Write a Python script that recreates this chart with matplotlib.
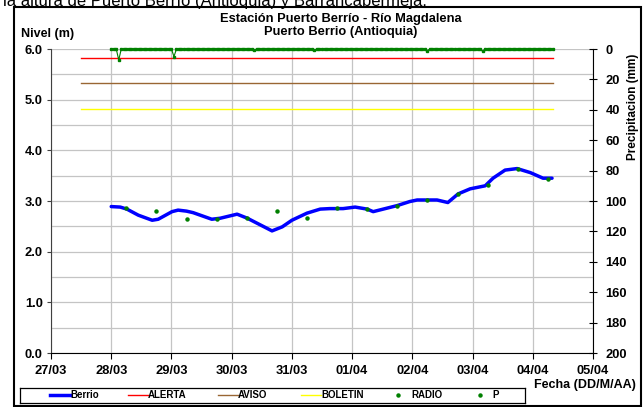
import numpy as np
import matplotlib
matplotlib.use('Agg')
import matplotlib.pyplot as plt
from matplotlib.patches import Rectangle
from matplotlib.ticker import MultipleLocator

# datos (dias desde 27/03 00:00)
fechas = ['27/03', '28/03', '29/03', '30/03', '31/03', '01/04', '02/04', '03/04', '04/04', '05/04']

berrio_dias = [1.00, 1.15, 1.26, 1.45, 1.68, 1.78, 2.01, 2.11, 2.25, 2.36, 2.67, 2.81,
               3.09, 3.26, 3.67, 3.84, 4.00, 4.25, 4.47, 4.63, 4.85, 5.05, 5.25, 5.35,
               5.75, 5.96, 6.08, 6.41, 6.59, 6.76, 6.96, 7.21, 7.34, 7.54, 7.74, 7.96,
               8.17, 8.32]
berrio_nivel = [2.89, 2.88, 2.84, 2.72, 2.62, 2.64, 2.79, 2.82, 2.80, 2.77, 2.64, 2.66,
                2.74, 2.66, 2.41, 2.49, 2.62, 2.76, 2.84, 2.85, 2.85, 2.88, 2.84, 2.79,
                2.91, 2.99, 3.02, 3.02, 2.97, 3.14, 3.24, 3.30, 3.45, 3.61, 3.64, 3.56,
                3.45, 3.45]

radio_dias = [1.25, 1.75, 2.25, 2.75, 3.25, 3.75, 4.25, 4.75, 5.25, 5.75, 6.25, 6.75,
              7.25, 7.75, 8.25]
radio_nivel = [2.86, 2.81, 2.64, 2.65, 2.67, 2.81, 2.67, 2.87, 2.84, 2.91, 3.02, 3.14,
               3.32, 3.64, 3.43]

alerta = 5.83
aviso = 5.32
boletin = 4.82
umbral_dias = [0.5, 8.33]

# precipitacion horaria desde 28/03 00:00, casi toda en cero
p_inicio = 1.0
p_horas = 176
p_evento_hora = [3, 25, 57, 81, 126, 148]
p_evento_mm = [7.2, 5.0, 0.6, 0.6, 1.0, 1.5]

series = ['Berrio', 'ALERTA', 'AVISO', 'BOLETIN', 'RADIO', 'P']
colores = ['#0000ff', '#ff0000', '#996633', '#ffff00', '#008000', '#008000']

plt.rcParams['font.family'] = ['Liberation Sans', 'DejaVu Sans']
plt.rcParams['font.weight'] = 'bold'

W, H = 643, 407
fig = plt.figure(figsize=(W / 100, H / 100), dpi=100)
ax = fig.add_axes([51 / W, 1 - 353 / H, (593 - 51) / W, (353 - 49) / H])

ax.plot(umbral_dias, [alerta] * 2, color=colores[1], lw=1.0, zorder=3)
ax.plot(umbral_dias, [aviso] * 2, color=colores[2], lw=1.0, zorder=3)
ax.plot(umbral_dias, [boletin] * 2, color=colores[3], lw=1.0, zorder=3)
ax.plot(berrio_dias, berrio_nivel, color=colores[0], lw=2.5, zorder=4,
        solid_capstyle='round', solid_joinstyle='round')
ax.plot(radio_dias, radio_nivel, ls='none', marker='o', ms=2.2, color=colores[4], zorder=5)

ax.set_xlim(0, 9)
ax.set_ylim(0, 6)
ax.set_xticks(range(len(fechas)))
ax.set_xticklabels(fechas)
ax.yaxis.set_major_locator(MultipleLocator(1.0))
ax.yaxis.set_minor_locator(MultipleLocator(0.5))
ax.yaxis.set_major_formatter(plt.FormatStrFormatter('%.1f'))
ax.grid(True, which='both', color='#c4c4c4', lw=0.9)
ax.tick_params(axis='y', which='minor', length=0)
ax.tick_params(axis='y', which='major', direction='out', length=3, labelsize=9.3,
               color='#404040', pad=3)
ax.tick_params(axis='x', direction='out', length=4, labelsize=9.3, pad=5)
ax.spines['top'].set_visible(False)
ax.spines['right'].set_visible(False)
ax.spines['left'].set_color('#404040')
ax.spines['bottom'].set_color('black')
ax.set_axisbelow(True)

# eje de precipitacion
ax2 = ax.twinx()
p_dias = p_inicio + np.arange(p_horas + 1) / 24.0
p_mm = np.zeros(p_horas + 1)
p_mm[p_evento_hora] = p_evento_mm
ax2.plot(p_dias, p_mm, color=colores[5], lw=0.8, marker='s', ms=1.6, zorder=6, clip_on=False)
ax2.set_ylim(200, 0)
ax2.yaxis.set_major_locator(MultipleLocator(20))
ax2.tick_params(axis='y', direction='inout', length=6, labelsize=9.3, pad=6)
for s in ['top', 'left', 'bottom']:
    ax2.spines[s].set_visible(False)
ax2.spines['right'].set_color('black')

# textos
fig.text(3 / W, 1 - 6 / H, 'la altura de Puerto Berrío (Antioquia) y Barrancabermeja.',
         fontsize=12, fontweight='normal', va='baseline', ha='left')
fig.text(341 / W, 1 - 19 / H, 'Estación Puerto Berrío - Río Magdalena',
         fontsize=9.3, ha='center', va='center')
fig.text(341 / W, 1 - 32 / H, 'Puerto Berrio (Antioquia)',
         fontsize=9.3, ha='center', va='center')
fig.text(21 / W, 1 - 34 / H, 'Nivel (m)', fontsize=9, ha='left', va='center')
fig.text(633 / W, 1 - 107 / H, 'Precipitacion (mm)', fontsize=8.5, rotation=90,
         ha='center', va='center')
fig.text(636 / W, 1 - 385 / H, 'Fecha (DD/M/AA)', fontsize=9, ha='right', va='center')

# leyenda en caja propia (coordenadas en pixeles)
lax = fig.add_axes([20 / W, 1 - 403 / H, 505 / W, 15 / H])
lax.set_xlim(20, 525)
lax.set_ylim(403, 388)
lax.set_xticks([])
lax.set_yticks([])
for s in lax.spines.values():
    s.set_color('black')
    s.set_linewidth(0.9)
ley_x = [50, 128, 218, 301, 389, 471]
yc = 395.5
for i, (nombre, c) in enumerate(zip(series, colores)):
    x0 = ley_x[i]
    if nombre in ('RADIO', 'P'):
        lax.plot([x0 + 9], [yc], ls='none', marker='o', ms=2.2, color=c)
        tx = x0 + 22 if nombre == 'RADIO' else x0 + 21
    else:
        lax.plot([x0, x0 + 20], [yc, yc], color=c, lw=2.5 if nombre == 'Berrio' else 1.0)
        tx = x0 + 20
    lax.text(tx, yc, nombre, fontsize=7, ha='left', va='center')

fig.patches.append(Rectangle((14 / W, 1 - 406 / H), (641 - 14) / W, (406 - 7) / H,
                             transform=fig.transFigure, fill=False, edgecolor='black',
                             lw=1.5))

fig.savefig('out.png', dpi=100)
